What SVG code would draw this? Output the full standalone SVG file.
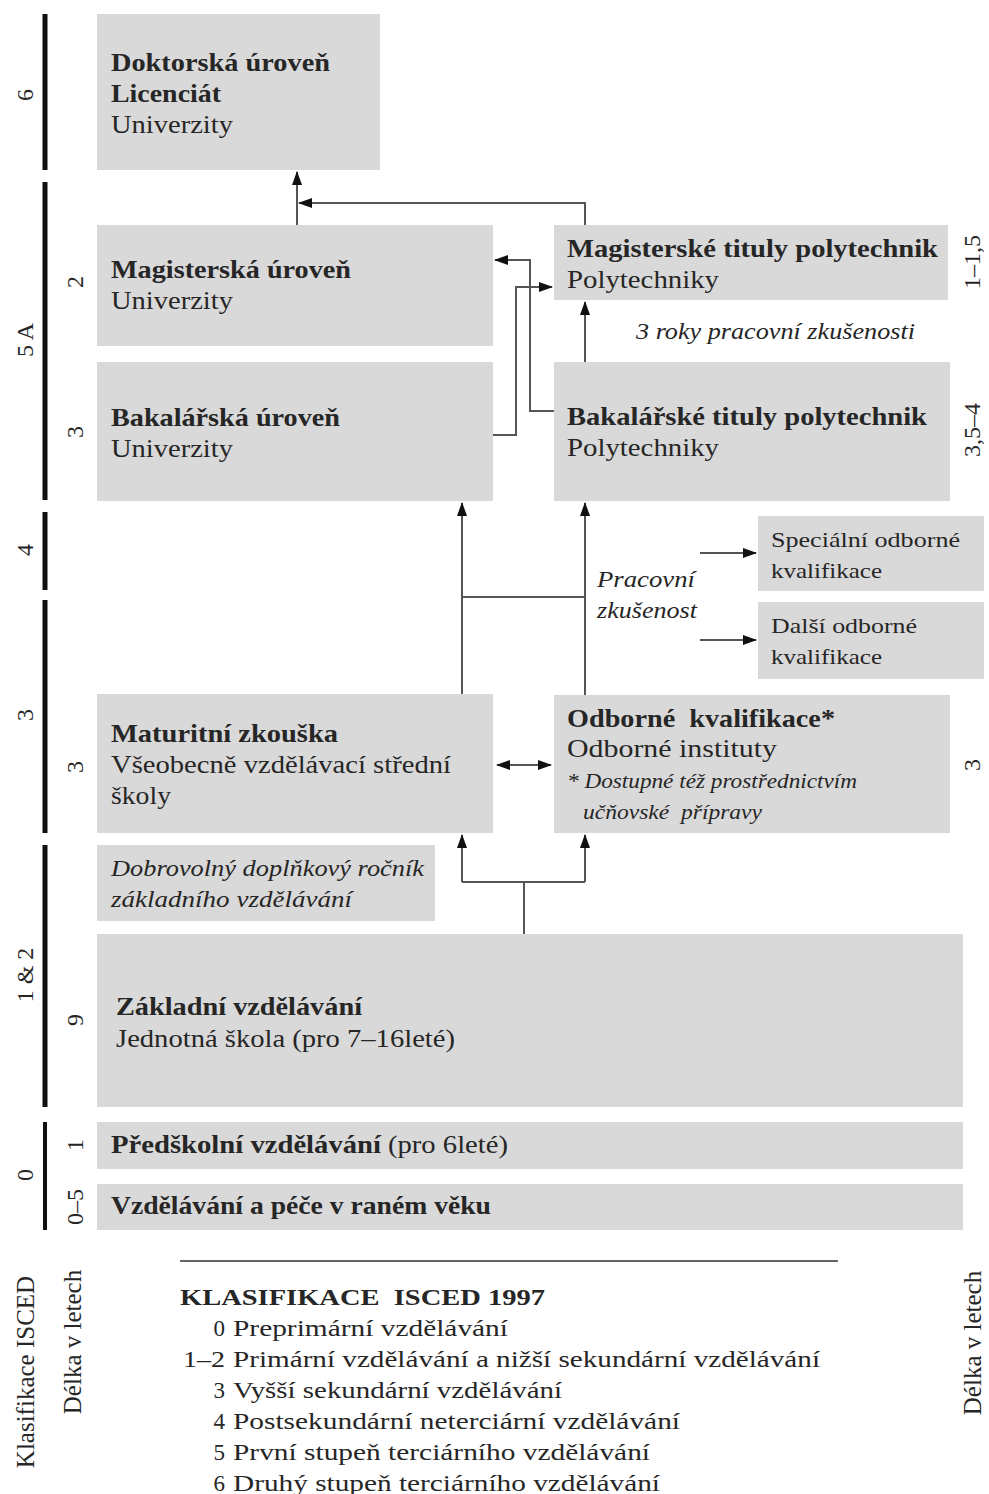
<svg xmlns="http://www.w3.org/2000/svg" width="989" height="1494" viewBox="0 0 989 1494">
<style>
.box{fill:#d9d9d9}
.t{font-family:"Liberation Serif","Times New Roman",serif;fill:#262626}
.b{font-weight:bold;font-size:25px}
.r{font-size:25px}
.i{font-style:italic;font-size:23px}
.s{font-size:22px}
.lab{font-size:24px;text-anchor:middle;dominant-baseline:central}
.bar{stroke:#111;stroke-width:5;fill:none}
.con{stroke:#555;stroke-width:2;fill:none}
.lg{font-size:23px}
</style>
<defs>
<marker id="ah" viewBox="0 0 14 10" refX="13" refY="5" markerWidth="14" markerHeight="10" markerUnits="userSpaceOnUse" orient="auto-start-reverse">
<path d="M0,0 L14,5 L0,10 Z" fill="#111"/>
</marker>
</defs>
<rect width="989" height="1494" fill="#ffffff"/>

<g id="scale-bars">
<line class="bar" x1="45" y1="14" x2="45" y2="170"/>
<line class="bar" x1="45" y1="182" x2="45" y2="500"/>
<line class="bar" x1="45" y1="512" x2="45" y2="590"/>
<line class="bar" x1="45" y1="600" x2="45" y2="833"/>
<line class="bar" x1="45" y1="845" x2="45" y2="1107"/>
<line class="bar" x1="45" y1="1122" x2="45" y2="1230" style="stroke-width:4"/>
</g>

<g id="isced-labels" class="t lab">
<text transform="translate(25,95) rotate(-90)">6</text>
<text transform="translate(25,340) rotate(-90)">5 A</text>
<text transform="translate(25,550) rotate(-90)">4</text>
<text transform="translate(25,715) rotate(-90)">3</text>
<text transform="translate(25,975) rotate(-90)">1 &amp; 2</text>
<text transform="translate(25,1175) rotate(-90)">0</text>
</g>

<g id="duration-labels" class="t lab">
<text transform="translate(75,282) rotate(-90)">2</text>
<text transform="translate(75,432) rotate(-90)">3</text>
<text transform="translate(75,767) rotate(-90)">3</text>
<text transform="translate(75,1020) rotate(-90)">9</text>
<text transform="translate(75,1145) rotate(-90)">1</text>
<text transform="translate(75,1207) rotate(-90)">0–5</text>
<text transform="translate(972,262) rotate(-90)">1–1,5</text>
<text transform="translate(972,430) rotate(-90)">3,5–4</text>
<text transform="translate(972,765) rotate(-90)">3</text>
</g>

<g id="n-doktorska">
<rect class="box" x="97" y="14" width="283" height="156"/>
<text class="t b" x="111" y="71" textLength="219" lengthAdjust="spacingAndGlyphs">Doktorská úroveň</text>
<text class="t b" x="111" y="102" textLength="110" lengthAdjust="spacingAndGlyphs">Licenciát</text>
<text class="t r" x="111" y="133" textLength="122" lengthAdjust="spacingAndGlyphs">Univerzity</text>
</g>

<g id="n-magisterska">
<rect class="box" x="97" y="225" width="396" height="121"/>
<text class="t b" x="111" y="278" textLength="240" lengthAdjust="spacingAndGlyphs">Magisterská úroveň</text>
<text class="t r" x="111" y="309" textLength="122" lengthAdjust="spacingAndGlyphs">Univerzity</text>
</g>

<g id="n-bakalarska">
<rect class="box" x="97" y="362" width="396" height="139"/>
<text class="t b" x="111" y="426" textLength="229" lengthAdjust="spacingAndGlyphs">Bakalářská úroveň</text>
<text class="t r" x="111" y="457" textLength="122" lengthAdjust="spacingAndGlyphs">Univerzity</text>
</g>

<g id="n-mag-poly">
<rect class="box" x="554" y="225" width="394" height="75"/>
<text class="t b" x="567" y="257" textLength="371" lengthAdjust="spacingAndGlyphs">Magisterské tituly polytechnik</text>
<text class="t r" x="567" y="288" textLength="152" lengthAdjust="spacingAndGlyphs">Polytechniky</text>
</g>

<g id="n-work3">
<text class="t i" x="636" y="339" textLength="279" lengthAdjust="spacingAndGlyphs">3 roky pracovní zkušenosti</text>
</g>

<g id="n-bak-poly">
<rect class="box" x="554" y="362" width="396" height="139"/>
<text class="t b" x="567" y="425" textLength="360" lengthAdjust="spacingAndGlyphs">Bakalářské tituly polytechnik</text>
<text class="t r" x="567" y="456" textLength="152" lengthAdjust="spacingAndGlyphs">Polytechniky</text>
</g>

<g id="n-specialni">
<rect class="box" x="758" y="516" width="226" height="75"/>
<text class="t s" x="771" y="547" textLength="189" lengthAdjust="spacingAndGlyphs">Speciální odborné</text>
<text class="t s" x="771" y="578" textLength="111" lengthAdjust="spacingAndGlyphs">kvalifikace</text>
</g>

<g id="n-dalsi">
<rect class="box" x="758" y="602" width="226" height="77"/>
<text class="t s" x="771" y="633" textLength="146" lengthAdjust="spacingAndGlyphs">Další odborné</text>
<text class="t s" x="771" y="664" textLength="111" lengthAdjust="spacingAndGlyphs">kvalifikace</text>
</g>

<g id="n-pracovni">
<text class="t i" x="597" y="587" textLength="98" lengthAdjust="spacingAndGlyphs">Pracovní</text>
<text class="t i" x="597" y="618" textLength="100" lengthAdjust="spacingAndGlyphs">zkušenost</text>
</g>

<g id="n-maturitni">
<rect class="box" x="97" y="694" width="396" height="139"/>
<text class="t b" x="111" y="742" textLength="227" lengthAdjust="spacingAndGlyphs">Maturitní zkouška</text>
<text class="t r" x="111" y="773" textLength="340" lengthAdjust="spacingAndGlyphs">Všeobecně vzdělávací střední</text>
<text class="t r" x="111" y="804" textLength="60" lengthAdjust="spacingAndGlyphs">školy</text>
</g>

<g id="n-odborne">
<rect class="box" x="554" y="695" width="396" height="138"/>
<text class="t b" x="567" y="727" textLength="268" lengthAdjust="spacingAndGlyphs" xml:space="preserve">Odborné  kvalifikace*</text>
<text class="t r" x="567" y="757" textLength="210" lengthAdjust="spacingAndGlyphs">Odborné instituty</text>
<text class="t i" x="567" y="788" style="font-size:20px" textLength="290" lengthAdjust="spacingAndGlyphs">* Dostupné též prostřednictvím</text>
<text class="t i" x="583" y="819" style="font-size:20px" textLength="179" lengthAdjust="spacingAndGlyphs" xml:space="preserve">učňovské  přípravy</text>
</g>

<g id="n-dobrovolny">
<rect class="box" x="97" y="845" width="338" height="76"/>
<text class="t i" x="111" y="876" textLength="313" lengthAdjust="spacingAndGlyphs">Dobrovolný doplňkový ročník</text>
<text class="t i" x="111" y="907" textLength="241" lengthAdjust="spacingAndGlyphs">základního vzdělávání</text>
</g>

<g id="n-zakladni">
<rect class="box" x="97" y="934" width="866" height="173"/>
<text class="t b" x="116" y="1015" textLength="246" lengthAdjust="spacingAndGlyphs">Základní vzdělávání</text>
<text class="t r" x="116" y="1047" textLength="339" lengthAdjust="spacingAndGlyphs">Jednotná škola (pro 7–16leté)</text>
</g>

<g id="n-predskolni">
<rect class="box" x="97" y="1122" width="866" height="47"/>
<text class="t b" x="111" y="1153" textLength="270" lengthAdjust="spacingAndGlyphs">Předškolní vzdělávání</text>
<text class="t r" x="388" y="1153" textLength="120" lengthAdjust="spacingAndGlyphs">(pro 6leté)</text>
</g>

<g id="n-pece">
<rect class="box" x="97" y="1184" width="866" height="46"/>
<text class="t b" x="111" y="1214" textLength="380" lengthAdjust="spacingAndGlyphs">Vzdělávání a péče v raném věku</text>
</g>

<g id="connectors" class="con">
<path d="M297,225 V172" marker-end="url(#ah)"/>
<path d="M585,225 V203 H299" marker-end="url(#ah)"/>
<path d="M493,435 H516 V287 H552" marker-end="url(#ah)"/>
<path d="M554,411 H530 V260 H495" marker-end="url(#ah)"/>
<path d="M585,362 V302" marker-end="url(#ah)"/>
<path d="M462,694 V503" marker-end="url(#ah)"/>
<path d="M585,695 V503" marker-end="url(#ah)"/>
<path d="M462,597 H585"/>
<path d="M700,553 H756" marker-end="url(#ah)"/>
<path d="M700,640 H756" marker-end="url(#ah)"/>
<path d="M497,765 H551" marker-start="url(#ah)" marker-end="url(#ah)"/>
<path d="M524,934 V882"/>
<path d="M462,882 H585"/>
<path d="M462,882 V835" marker-end="url(#ah)"/>
<path d="M585,882 V835" marker-end="url(#ah)"/>
</g>

<g id="legend">
<line x1="180" y1="1261" x2="838" y2="1261" stroke="#666" stroke-width="2"/>
<text class="t lab" style="font-size:25px" transform="translate(25,1372) rotate(-90)">Klasifikace ISCED</text>
<text class="t lab" style="font-size:25px" transform="translate(72,1342) rotate(-90)">Délka v letech</text>
<text class="t lab" style="font-size:25px" transform="translate(972,1343) rotate(-90)">Délka v letech</text>
<text class="t b" style="font-size:24px" x="180" y="1305" textLength="365" lengthAdjust="spacingAndGlyphs" xml:space="preserve">KLASIFIKACE  ISCED 1997</text>
<g class="t lg">
<text x="225" y="1336" text-anchor="end">0</text>
<text x="233" y="1336" textLength="275" lengthAdjust="spacingAndGlyphs">Preprimární vzdělávání</text>
<text x="225" y="1367" text-anchor="end" textLength="42" lengthAdjust="spacingAndGlyphs">1–2</text>
<text x="233" y="1367" textLength="587" lengthAdjust="spacingAndGlyphs">Primární vzdělávání a nižší sekundární vzdělávání</text>
<text x="225" y="1398" text-anchor="end">3</text>
<text x="233" y="1398" textLength="329" lengthAdjust="spacingAndGlyphs">Vyšší sekundární vzdělávání</text>
<text x="225" y="1429" text-anchor="end">4</text>
<text x="233" y="1429" textLength="447" lengthAdjust="spacingAndGlyphs">Postsekundární neterciární vzdělávání</text>
<text x="225" y="1460" text-anchor="end">5</text>
<text x="233" y="1460" textLength="417" lengthAdjust="spacingAndGlyphs">První stupeň terciárního vzdělávání</text>
<text x="225" y="1491" text-anchor="end">6</text>
<text x="233" y="1491" textLength="427" lengthAdjust="spacingAndGlyphs">Druhý stupeň terciárního vzdělávání</text>
</g>
</g>
</svg>
